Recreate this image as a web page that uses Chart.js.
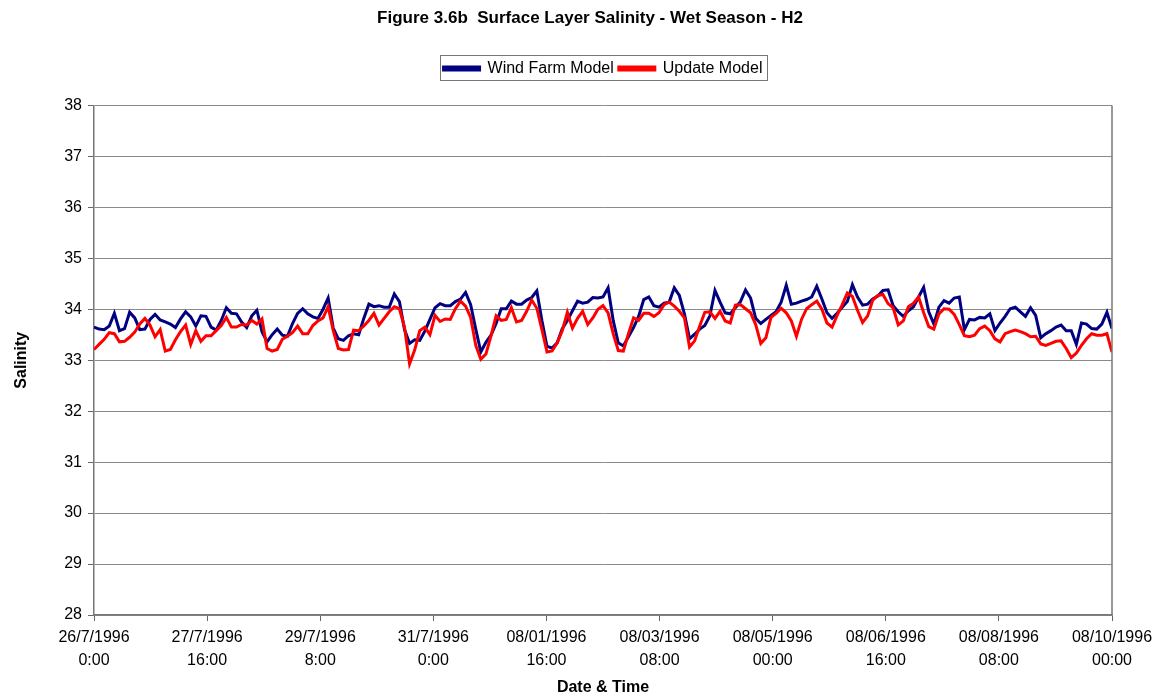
<!DOCTYPE html>
<html>
<head>
<meta charset="utf-8">
<script src="https://cdn.jsdelivr.net/npm/chart.js@4.4.1/dist/chart.umd.min.js"></script>
<style>
    body { margin: 0; background: #fff; }
    #wrap { width: 1153px; height: 694px; }
</style>
</head>
<body>
<div id="wrap"><canvas id="salinityChart" width="1153" height="694"></canvas></div>
<script>
// Tick labels on the time axis (one every 40 hours)
const tickLabels = [
    ['26/7/1996', '0:00'], ['27/7/1996', '16:00'], ['29/7/1996', '8:00'], ['31/7/1996', '0:00'],
    ['08/01/1996', '16:00'], ['08/03/1996', '08:00'], ['08/05/1996', '00:00'], ['08/06/1996', '16:00'],
    ['08/08/1996', '08:00'], ['08/10/1996', '00:00']
];
const TICK_HOURS = 40;     // hours between labelled ticks
const SAMPLE_HOURS = 1.8;  // hours between the samples below

// Salinity samples
const windFarm = [
    33.65, 33.61, 33.60, 33.67, 33.92, 33.58, 33.62, 33.94, 33.83, 33.60,
    33.61, 33.80, 33.90, 33.79, 33.75, 33.71, 33.64, 33.81, 33.95, 33.85,
    33.67, 33.87, 33.86, 33.65, 33.59, 33.78, 34.03, 33.92, 33.91, 33.75,
    33.64, 33.87, 33.98, 33.56, 33.36, 33.50, 33.61, 33.49, 33.47, 33.72,
    33.92,
    34.01, 33.91, 33.85, 33.82, 34.00, 34.22, 33.63, 33.42, 33.39, 33.48,
    33.52, 33.50, 33.82, 34.10, 34.05, 34.07, 34.04, 34.04, 34.30, 34.15,
    33.60, 33.33, 33.40, 33.39, 33.57, 33.80, 34.03, 34.11, 34.07, 34.07,
    34.15, 34.20, 34.33, 34.09, 33.61, 33.16, 33.35, 33.49, 33.72, 34.01,
    34.01, 34.16, 34.10, 34.10, 34.18, 34.23, 34.36, 33.78, 33.27, 33.24,
    33.34, 33.62, 33.78, 33.97, 34.16, 34.12, 34.14, 34.23, 34.22, 34.24,
    34.42, 33.78, 33.34, 33.28, 33.46, 33.64, 33.86, 34.19, 34.24, 34.07,
    34.04, 34.12, 34.14, 34.42, 34.27, 33.91, 33.42, 33.51, 33.61, 33.68,
    33.87, 34.37, 34.14, 33.93, 33.91, 34.03, 34.15, 34.38, 34.22, 33.82,
    33.72, 33.80, 33.88, 33.95, 34.14, 34.47, 34.10, 34.12, 34.16, 34.19,
    34.24, 34.45, 34.20, 33.93, 33.82, 33.92, 34.04, 34.15, 34.48, 34.24,
    34.08, 34.10, 34.20, 34.26, 34.37, 34.38, 34.07, 33.95, 33.86, 33.97,
    34.05, 34.24, 34.43, 33.95, 33.71, 34.04, 34.17, 34.12, 34.22, 34.24,
    33.60, 33.80, 33.79, 33.84, 33.83, 33.91, 33.58, 33.73, 33.86, 34.01,
    34.04, 33.95, 33.86, 34.03, 33.88, 33.44, 33.52, 33.58, 33.65, 33.69,
    33.58, 33.58, 33.31, 33.73, 33.71, 33.62, 33.61, 33.71, 33.94, 33.62
];
const updateModel = [
    33.21, 33.31, 33.41, 33.54, 33.52, 33.36, 33.37, 33.45, 33.55, 33.71,
    33.82, 33.69, 33.46, 33.60, 33.18, 33.21, 33.40, 33.56, 33.69, 33.31,
    33.58, 33.37, 33.48, 33.48, 33.58, 33.68, 33.84, 33.65, 33.65, 33.70,
    33.69, 33.78, 33.71, 33.81, 33.23, 33.18, 33.21, 33.41, 33.47, 33.54,
    33.67,
    33.52, 33.52, 33.68, 33.77, 33.83, 34.05, 33.58, 33.23, 33.20, 33.21,
    33.59, 33.58, 33.67, 33.78, 33.92, 33.69, 33.82, 33.95, 34.05, 34.01,
    33.65, 32.93, 33.20, 33.58, 33.65, 33.50, 33.88, 33.76, 33.81, 33.80,
    34.01, 34.16, 34.06, 33.84, 33.29, 33.02, 33.12, 33.48, 33.87, 33.78,
    33.80, 34.03, 33.75, 33.78, 33.96, 34.18, 34.02, 33.60, 33.16, 33.18,
    33.34, 33.58, 33.94, 33.63, 33.82, 33.96, 33.70, 33.83, 34.00, 34.07,
    33.93, 33.52, 33.19, 33.18, 33.52, 33.83, 33.78, 33.92, 33.92, 33.86,
    33.93, 34.09, 34.14, 34.06, 33.96, 33.83, 33.26, 33.38, 33.67, 33.94,
    33.95, 33.82, 33.96, 33.77, 33.73, 34.08, 34.09, 34.01, 33.93, 33.70,
    33.33, 33.44, 33.84, 33.92, 34.02, 33.93, 33.77, 33.47, 33.80, 34.01,
    34.09, 34.16, 34.00, 33.73, 33.65, 33.88, 34.09, 34.32, 34.25, 33.98,
    33.74, 33.87, 34.18, 34.27, 34.29, 34.11, 34.03, 33.69, 33.77, 34.05,
    34.12, 34.24, 33.93, 33.66, 33.61, 33.91, 34.01, 34.00, 33.90, 33.70,
    33.48, 33.46, 33.49, 33.62, 33.67, 33.58, 33.42, 33.36, 33.52, 33.56,
    33.59, 33.56, 33.52, 33.46, 33.47, 33.32, 33.29, 33.33, 33.37, 33.38,
    33.23, 33.05, 33.14, 33.29, 33.42, 33.52, 33.49, 33.49, 33.52, 33.16
];

const FONT = 'Liberation Sans, Arial, sans-serif';

const toPoints = arr => arr.map((v, i) => ({ x: i * SAMPLE_HOURS, y: v }));

// shift a layout box sideways when it is drawn
function shiftDraw(box, dx) {
    const draw = box.draw;
    box.draw = function(area) {
        const ctx = this.ctx;
        ctx.save();
        ctx.translate(dx, 0);
        draw.call(this, area);
        ctx.restore();
    };
}

const TITLE_DX = 34;
const LEGEND_DX = 47;

// extra room under the legend, a frame round it, right edge of the plot
const chartDecor = {
    id: 'chartDecor',
    beforeInit(chart) {
        const fit = chart.legend.fit;
        chart.legend.fit = function() {
            fit.call(chart.legend);
            this.height += 19;
        };
        shiftDraw(chart.legend, LEGEND_DX);
        shiftDraw(chart.titleBlock, TITLE_DX);
    },
    afterDraw(chart) {
        const ctx = chart.ctx;
        const boxes = chart.legend.legendHitBoxes;
        ctx.save();
        if (boxes && boxes.length) {
            const left = Math.min(...boxes.map(b => b.left)) - 4 + LEGEND_DX;
            const right = Math.max(...boxes.map(b => b.left + b.width)) + 4 + LEGEND_DX;
            const top = boxes[0].top - 5;
            ctx.strokeStyle = '#777';
            ctx.lineWidth = 1;
            ctx.strokeRect(Math.round(left) + 0.5, Math.round(top) + 0.5, Math.round(right - left), 25);
        }
        const a = chart.chartArea;
        ctx.strokeStyle = '#777';
        ctx.lineWidth = 1.5;
        ctx.beginPath();
        ctx.moveTo(a.right, a.top);
        ctx.lineTo(a.right, a.bottom);
        ctx.stroke();
        ctx.restore();
    }
};

new Chart(document.getElementById('salinityChart'), {
    type: 'line',
    data: {
        datasets: [
            {
                label: 'Wind Farm Model',
                data: toPoints(windFarm),
                borderColor: '#000080',
                backgroundColor: '#000080',
                borderWidth: 3,
                order: 2
            },
            {
                label: 'Update Model',
                data: toPoints(updateModel),
                borderColor: '#ff0000',
                backgroundColor: '#ff0000',
                borderWidth: 3,
                order: 1
            }
        ]
    },
    options: {
        responsive: false,
        animation: false,
        elements: { point: { radius: 0 }, line: { tension: 0 } },
        layout: { padding: { left: 0, right: 41, top: 0, bottom: 0 } },
        plugins: {
            title: {
                display: true,
                text: 'Figure 3.6b  Surface Layer Salinity - Wet Season - H2',
                color: '#000',
                font: { family: FONT, size: 17, weight: 'bold' },
                padding: { top: 8, bottom: 27 }
            },
            legend: {
                display: true,
                labels: {
                    color: '#000',
                    font: { family: FONT, size: 16 },
                    boxWidth: 36,
                    boxHeight: 3,
                    padding: 5,
                    sort: (a, b) => a.datasetIndex - b.datasetIndex
                }
            },
            tooltip: { enabled: false }
        },
        scales: {
            x: {
                type: 'linear',
                min: 0,
                max: (tickLabels.length - 1) * TICK_HOURS,
                afterFit(scale) {
                    scale.height = 79;
                    scale.paddingLeft = 0;
                    scale.paddingRight = 0;
                },
                afterBuildTicks(scale) {
                    scale.ticks = tickLabels.map((t, i) => ({ value: i * TICK_HOURS }));
                },
                grid: {
                    drawOnChartArea: false,
                    drawTicks: true,
                    tickLength: 6,
                    tickColor: '#666'
                },
                border: { color: '#777', width: 1.5 },
                ticks: {
                    autoSkip: false,
                    maxRotation: 0,
                    padding: 5,
                    color: '#000',
                    font: { family: FONT, size: 16, lineHeight: 1.44 },
                    callback(value) {
                        return tickLabels[Math.round(value / TICK_HOURS)];
                    }
                },
                title: {
                    display: true,
                    text: 'Date & Time',
                    color: '#000',
                    font: { family: FONT, size: 16, weight: 'bold' },
                    padding: { top: 0, bottom: -3 }
                }
            },
            y: {
                min: 28,
                max: 38,
                afterFit(scale) {
                    scale.width = 94;
                    scale.paddingTop = 0;
                    scale.paddingBottom = 0;
                },
                grid: {
                    color: '#8a8a8a',
                    lineWidth: 1,
                    tickLength: 6,
                    tickColor: '#666'
                },
                border: { color: '#777', width: 1.5 },
                ticks: {
                    stepSize: 1,
                    padding: 6,
                    color: '#000',
                    font: { family: FONT, size: 16 }
                },
                title: {
                    display: true,
                    text: 'Salinity',
                    color: '#000',
                    font: { family: FONT, size: 16, weight: 'bold' },
                    padding: { top: 12, bottom: 0 }
                }
            }
        }
    },
    plugins: [chartDecor]
});
</script>
</body>
</html>
